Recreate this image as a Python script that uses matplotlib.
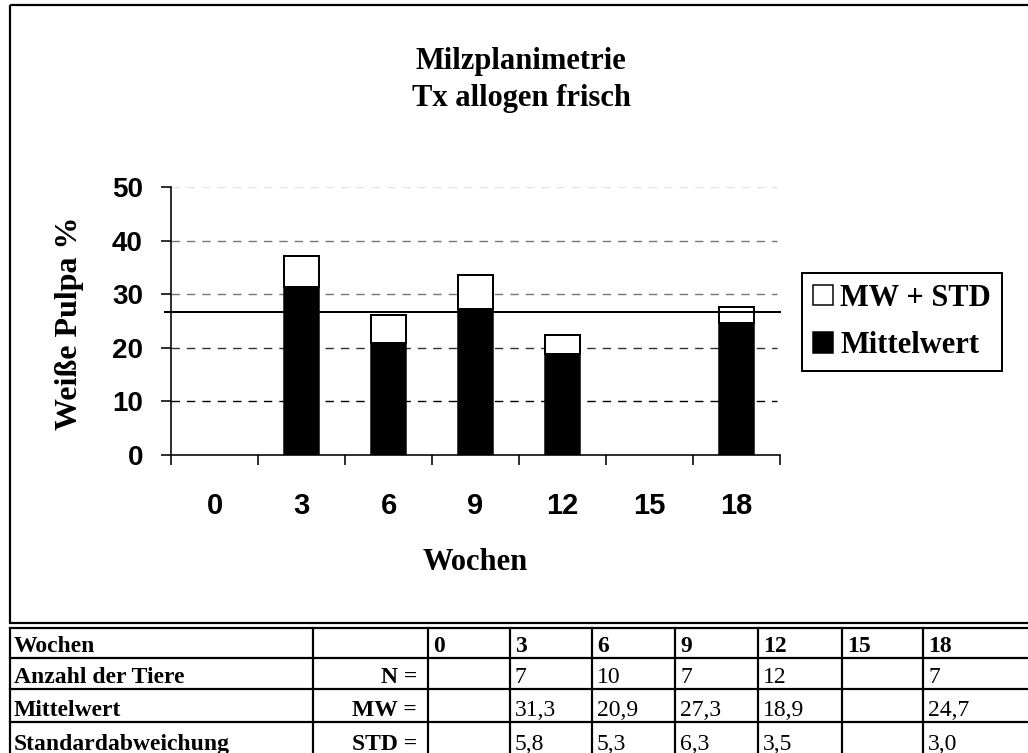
import numpy as np
import matplotlib
matplotlib.use("Agg")
import matplotlib.pyplot as plt
from matplotlib.patches import Rectangle, Patch

# Spleen planimetry, white pulp share per time point
weeks = [0, 3, 6, 9, 12, 15, 18]
n_animals = [None, 7, 10, 7, 12, None, 7]
mean_vals = [np.nan, 31.3, 20.9, 27.3, 18.9, np.nan, 24.7]
std_vals = [np.nan, 5.8, 5.3, 6.3, 3.5, np.nan, 3.0]
control_level = 26.7
y_ticks = [0, 10, 20, 30, 40, 50]

SERIF = ["Liberation Serif", "DejaVu Serif"]
SANS = ["Liberation Sans", "DejaVu Sans"]

W, H = 1028, 753
fig = plt.figure(figsize=(W / 100, H / 100), dpi=100)
px = 72 / 100  # points per pixel

# overlay in pixel coordinates for the frame and the data table
ov = fig.add_axes([0, 0, 1, 1])
ov.set_xlim(0, W)
ov.set_ylim(H, 0)
ov.axis("off")
ov.add_patch(Rectangle((10, 5), W + 30, 618, fill=False, lw=2.2 * px, ec="black"))

# main chart
left, right, top, bottom = 171, 780, 187, 455
ax = fig.add_axes([left / W, (H - bottom) / H, (right - left) / W, (bottom - top) / H])
ax.set_facecolor("none")
x = np.arange(len(weeks)) + 0.5
bw = 0.4
ax.bar(x, mean_vals, width=bw, color="black", edgecolor="black", lw=1.5 * px, zorder=3)
ax.bar(x, std_vals, width=bw, bottom=mean_vals, color="white", edgecolor="black",
       lw=2 * px, zorder=3)

grid_colors = {10: "black", 20: "#333333", 30: "#777777", 40: "#777777", 50: "#e4e4e4"}
for v in y_ticks[1:]:
    ax.plot([0, 6.97], [v, v], color=grid_colors[v], lw=1.4 * px,
            dashes=(6, 5), zorder=1)

ax.plot([-0.07, 7.0], [control_level, control_level], color="black", lw=2 * px,
        zorder=4, clip_on=False)

ax.set_xlim(0, 7)
ax.set_ylim(0, 50)
for s in ["top", "right"]:
    ax.spines[s].set_visible(False)
for s in ["left", "bottom"]:
    ax.spines[s].set_linewidth(1.6 * px)

ax.set_yticks(y_ticks)
ax.set_yticklabels([str(v) for v in y_ticks], fontfamily=SANS, fontweight="bold",
                   fontsize=20)
ax.tick_params(axis="y", direction="out", length=10 * px, width=1.6 * px, pad=13)

ax.set_xticks(np.arange(len(weeks) + 1))
ax.set_xticklabels([])
ax.tick_params(axis="x", which="major", direction="out", length=10 * px, width=1.6 * px)
ax.set_xticks(x, minor=True)
ax.set_xticklabels([str(w) for w in weeks], minor=True, fontfamily=SANS,
                   fontweight="bold", fontsize=21)
ax.tick_params(axis="x", which="minor", length=0, pad=27)

fig.text(521 / W, 1 - 80 / H, "Milzplanimetrie\nTx allogen frisch", ha="center",
         va="center", fontfamily=SERIF, fontweight="bold", fontsize=22, linespacing=1.4)
fig.text(70 / W, 1 - 323 / H, "Weiße Pulpa %", rotation=90, ha="center", va="center",
         fontfamily=SERIF, fontweight="bold", fontsize=23)
fig.text(475 / W, 1 - 562 / H, "Wochen", ha="center", va="center",
         fontfamily=SERIF, fontweight="bold", fontsize=22)

handles = [Patch(facecolor="white", edgecolor="black", lw=1.5 * px),
           Patch(facecolor="black", edgecolor="black", lw=1.5 * px)]
leg = fig.legend(handles, ["MW + STD", "Mittelwert"], loc="center left",
                 bbox_to_anchor=(802 / W, 1 - 322 / H),
                 prop={"family": SERIF, "weight": "bold", "size": 22},
                 handlelength=0.65, handleheight=0.65, handletextpad=0.25,
                 labelspacing=0.6, borderpad=0.35, borderaxespad=0,
                 fancybox=False, framealpha=1)
leg.get_frame().set_edgecolor("black")
leg.get_frame().set_linewidth(2 * px)

# data table below the chart
col_edges = [10, 313, 428, 510, 592, 675, 758, 842, 923, 1040]
row_edges = [628, 658, 689, 722, 770]
baselines = [652, 683, 716, 750]
lw_tab = 2.2 * px
for yy in row_edges:
    ov.plot([10, W + 20], [yy, yy], color="black", lw=lw_tab)
for xx in col_edges:
    ov.plot([xx, xx], [row_edges[0], row_edges[-1]], color="black", lw=lw_tab)

row_titles = ["Wochen", "Anzahl der Tiere", "Mittelwert", "Standardabweichung"]
row_keys = ["", "N =", "MW =", "STD ="]


def fmt(v):
    if v is None or (isinstance(v, float) and np.isnan(v)):
        return ""
    if isinstance(v, float):
        return f"{v:.1f}".replace(".", ",")
    return str(v)


rows = [[str(w) for w in weeks],
        [fmt(v) for v in n_animals],
        [fmt(v) for v in mean_vals],
        [fmt(v) for v in std_vals]]
tab_kw = dict(fontfamily=SERIF, fontsize=17, va="baseline")
for r in range(4):
    yb = baselines[r]
    ov.text(col_edges[0] + 4, yb, row_titles[r], ha="left", fontweight="bold", **tab_kw)
    ov.text(col_edges[2] - 11, yb, row_keys[r], ha="right", fontweight="bold", **tab_kw)
    for c, txt in enumerate(rows[r]):
        ov.text(col_edges[c + 2] + 5, yb, txt, ha="left",
                fontweight="bold" if r == 0 else "normal", **tab_kw)

fig.savefig("out.png", dpi=100)
